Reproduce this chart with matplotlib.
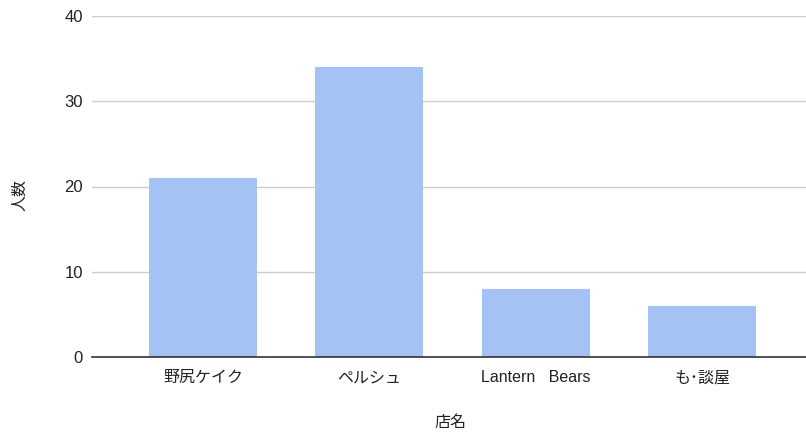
import matplotlib
matplotlib.use("Agg")
import matplotlib.pyplot as plt

plt.rcParams['font.family'] = ['Liberation Sans', 'Noto Sans CJK JP', 'DejaVu Sans']

categories = ["野尻ケイク", "ペルシュ", "Lantern   Bears", "も･談屋"]
values = [21, 34, 8, 6]
yticks = [0, 10, 20, 30, 40]

fig = plt.figure(figsize=(8.06, 4.32), dpi=100)
ax = fig.add_axes([92/806, 75/432, 714/806, 341/432])

x = list(range(len(categories)))
ax.bar(x, values, width=0.65, color="#a4c2f4", zorder=3)

ax.set_xlim(-0.667, 3.625)
ax.set_ylim(0, 40)
ax.set_yticks(yticks)
ax.set_xticks(x)
ax.set_xticklabels(categories)
ax.grid(axis='y', color="#cccccc", linewidth=1, zorder=0)
ax.tick_params(axis='both', length=0, colors="#222222")
ax.tick_params(axis='y', pad=6.5, labelsize=12)
ax.tick_params(axis='x', pad=9.5, labelsize=11.5)
for s in ["top", "right", "left"]:
    ax.spines[s].set_visible(False)
ax.spines["bottom"].set_color("#333333")
ax.spines["bottom"].set_linewidth(1.2)
ax.spines["bottom"].set_zorder(4)

fig.text(450/806, 1 - 422/432, "店名", ha='center', va='center', fontsize=11.5, color="#222222")
fig.text(20/806, 1 - 195/432, "人数", ha='center', va='center', rotation=90, fontsize=11.5, color="#222222")

fig.savefig("out.png", dpi=100, facecolor="white")
